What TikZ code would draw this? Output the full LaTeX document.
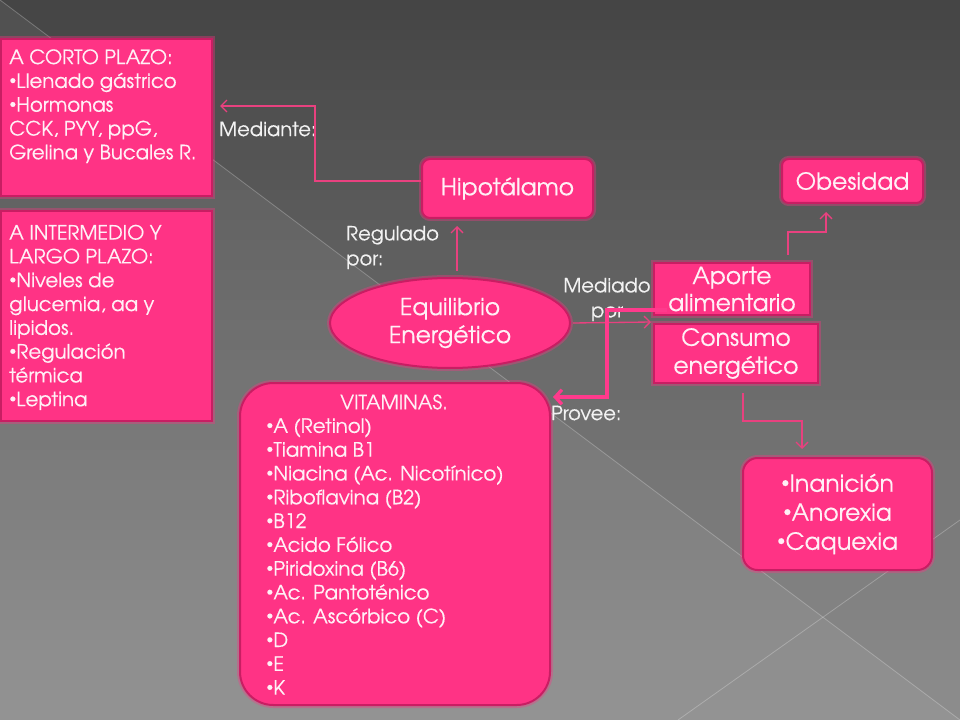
\documentclass[tikz,border=0pt]{standalone}
\usepackage{fontspec}
\usepackage{graphicx}
\setmainfont{texgyreadventor-regular.otf}[FakeBold=0.35]
\usetikzlibrary{arrows.meta,calc,shapes.geometric}
\definecolor{pinkfill}{HTML}{FF3385}
\definecolor{pinkedge}{HTML}{C81E63}
\definecolor{txt}{HTML}{FFF0F6}
\definecolor{lblcol}{HTML}{F2F2F2}
\definecolor{conncol}{HTML}{E8417F}
\definecolor{thickcol}{HTML}{FF3A8C}
\definecolor{bgtop}{HTML}{454545}
\definecolor{bgbot}{HTML}{8E8E8E}
\newcommand{\bul}{\raisebox{0.35ex}{\scalebox{0.7}{•}}}
\begin{document}
\begin{tikzpicture}[x=0.75pt,y=-0.75pt,
  box/.style={draw=pinkedge, line width=1.5pt, fill=pinkfill, inner sep=0pt, text=txt,
    preaction={draw=pinkfill, line width=4.5pt, opacity=0.35}},
  smalltxt/.style={text=txt, font=\fontsize{14.8}{17.85}\selectfont, align=left, inner sep=0pt},
  bigfont/.style={font=\fontsize{17.6}{21}\selectfont, align=center},
  lbl/.style={text=lblcol, font=\fontsize{14.6}{18.75}\selectfont, inner sep=0pt},
  conn/.style={draw=conncol, line width=1pt, -{Straight Barb[length=4.5pt,width=9pt]}},
  thickconn/.style={draw=thickcol, line width=2.5pt, -{Straight Barb[length=5pt,width=11pt]}},
  bgline/.style={draw=white, opacity=0.25, line width=0.6pt}
]
\useasboundingbox (0,0) rectangle (960,720);
% background
\foreach \i in {0,...,71}{
  \pgfmathtruncatemacro\p{100*(\i+0.5)/72}
  \fill[bgbot!\p!bgtop] (0,\i*10) rectangle (960,\i*10+11);
}
\fill[white, opacity=0.06] (0,0) -- (960,720) -- (0,720) -- cycle;
\draw[bgline] (0,0) -- (960,720);
\draw[bgline] (960,520) -- (678,720);

% boxes
\node[box, minimum width=158.25pt, minimum height=117.75pt, anchor=north west] (corto) at (0,38) {};
\node[smalltxt, anchor=north west] (cortotxt) at (9,49) {A CORTO PLAZO:\\\bul Llenado gástrico\\\bul Hormonas\\CCK, PYY, ppG,\\Grelina y Bucales R.};

\node[box, minimum width=158.25pt, minimum height=157.5pt, anchor=north west] (inter) at (0,210) {};
\node[smalltxt, anchor=north west] (intertxt) at (9,224.5) {A INTERMEDIO Y\\LARGO PLAZO:\\\bul Niveles de\\glucemia, aa y\\lipidos.\\\bul Regulación\\térmica\\\bul Leptina};

\node[box, bigfont, rounded corners=6pt, minimum width=128.25pt, minimum height=44.25pt] (hipo) at (507.5,188.5) {Hipotálamo};
\node[box, bigfont, rounded corners=5pt, minimum width=105.75pt, minimum height=33pt] (obes) at (852.5,181) {Obesidad};
\node[box, bigfont, ellipse, minimum width=180pt, minimum height=67.5pt] (equi) at (450,323) {Equilibrio\\Energético};
\node[box, bigfont, font=\fontsize{17.6}{20.25}\selectfont, minimum width=117pt, minimum height=39pt] (aporte) at (732,289) {Aporte\\alimentario};
\node[box, bigfont, minimum width=123pt, minimum height=44.25pt] (consumo) at (736,353.5) {Consumo\\energético};
\node[box, bigfont, font=\fontsize{17.6}{21.75}\selectfont, rounded corners=11pt, minimum width=141.75pt, minimum height=84pt] (inan) at (837.5,514) {\bul Inanición\\\bul Anorexia\\\bul Caquexia};

\node[box, rounded corners=25pt, minimum width=232.5pt, minimum height=241.5pt] (vit) at (395,544) {};
\node[smalltxt] (vittitle) at (394,402) {VITAMINAS.};
\node[smalltxt, anchor=north west] (vitlist) at (266,418) {\bul A (Retinol)\\\bul Tiamina B1\\\bul Niacina (Ac. Nicotínico)\\\bul Riboflavina (B2)\\\bul B12\\\bul Acido Fólico\\\bul Piridoxina (B6)\\\bul Ac. Pantoténico\\\bul Ac. Ascórbico (C)\\\bul D\\\bul E\\\bul K};

% labels
\node[lbl, anchor=west] (lmed) at (219,129) {Mediante:};
\node[lbl, anchor=west, align=left] (lreg) at (346,247.5) {Regulado\\por:};
\node[lbl, align=center] (lmedp) at (607,299.5) {Mediado\\por};
\node[lbl, anchor=west] (lprov) at (551,413) {Provee:};

% connectors
\draw[conn] ($(hipo.west)+(0,-7.5)$) -- ++(-106,0) |- ($(corto.east)+(7,-11.5)$);
\draw[conn] ($(equi.north)+(7,-6)$) -- ($(hipo.south)+(-50.5,7)$);
\draw[conn] ($(equi.east)+(2,0)$) -- ($(consumo.north west)+(-2,-1)$);
\draw[conn] ($(aporte.north)+(56,-7)$) -- ++(0,-23) -| ($(obes.south)+(-26.5,8)$);
\draw[conn] ($(consumo.south)+(7,9)$) -- ++(0,28) -| ($(inan.north)+(-35.5,-8)$);
\draw[thickconn] ($(aporte.south west)+(14,-6)$) -- ++(-60,0) |- ($(vit.north east)+(2,15)$);
\end{tikzpicture}
\end{document}
